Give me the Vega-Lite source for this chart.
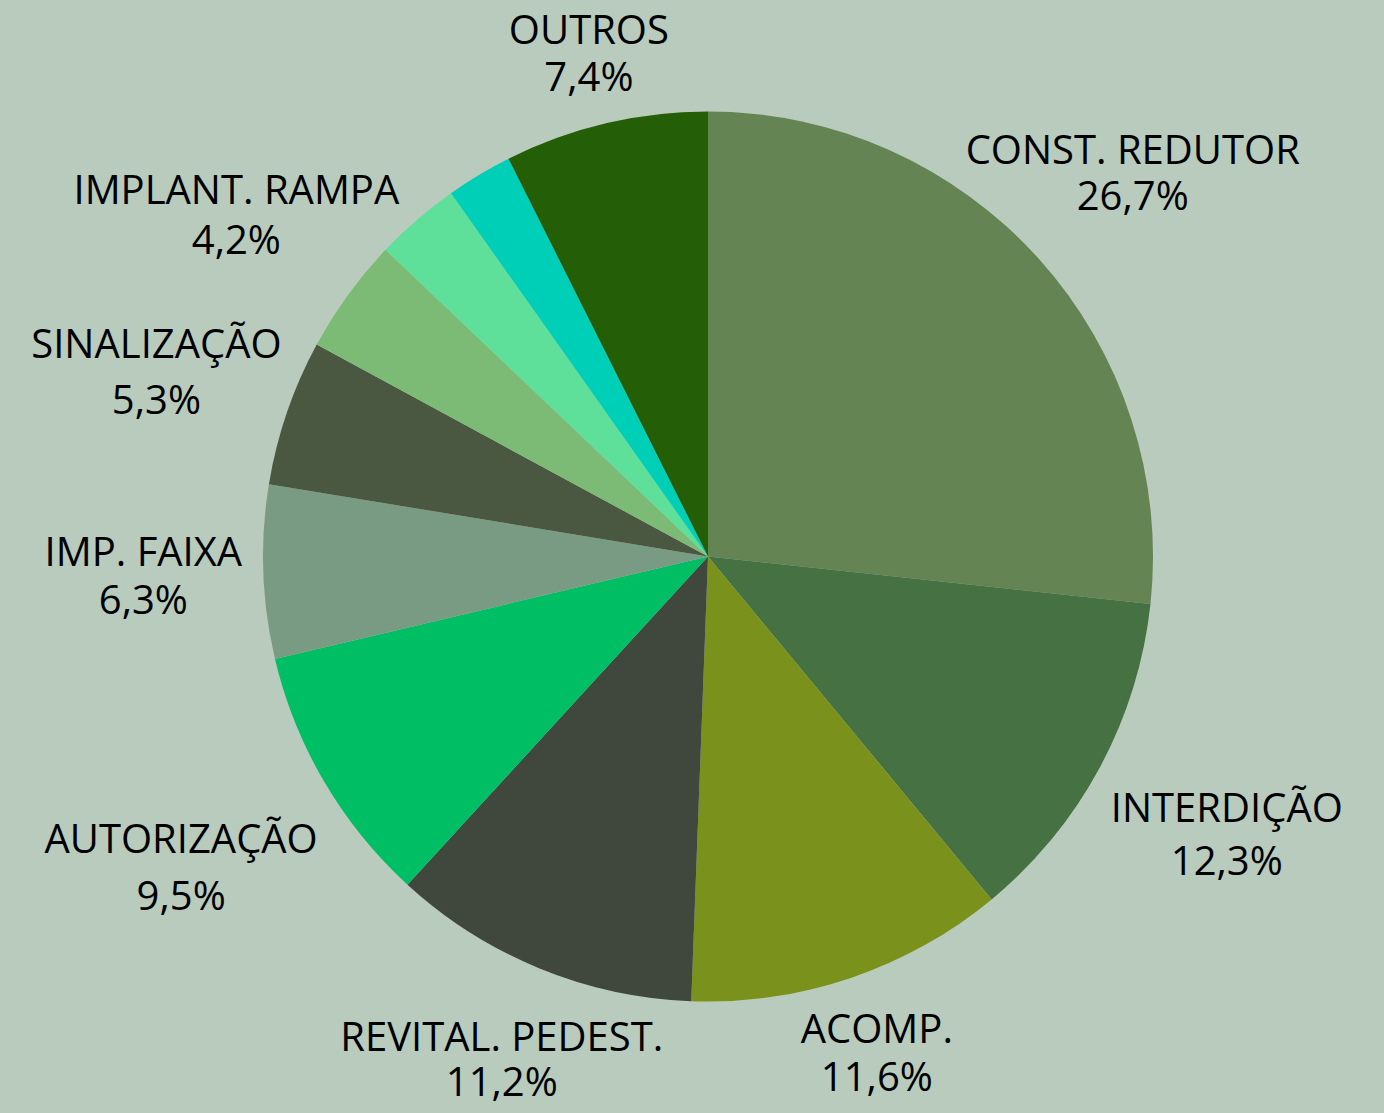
{
  "$schema": "https://vega.github.io/schema/vega-lite/v6.json",
  "width": 1352,
  "height": 1113,
  "autosize": "none",
  "padding": {"left": 32, "right": 0, "top": 0, "bottom": 0},
  "background": "#B9CBBC",
  "config": {"view": {"stroke": null}, "text": {"font": "Open Sans", "fontSize": 40, "color": "#000000", "lineBreak": "\n", "align": "center", "baseline": "middle"}},
  "data": {
    "values": [
      {"idx": 1, "cat": "CONST. REDUTOR", "value": 26.7},
      {"idx": 2, "cat": "INTERDIÇÃO", "value": 12.3},
      {"idx": 3, "cat": "ACOMP.", "value": 11.6},
      {"idx": 4, "cat": "REVITAL. PEDEST.", "value": 11.2},
      {"idx": 5, "cat": "AUTORIZAÇÃO", "value": 9.5},
      {"idx": 6, "cat": "IMP. FAIXA", "value": 6.3},
      {"idx": 7, "cat": "SINALIZAÇÃO", "value": 5.3},
      {"idx": 8, "cat": "IMPLANT. RAMPA", "value": 4.2},
      {"idx": 9, "cat": "DEMAIS A", "value": 3.1},
      {"idx": 10, "cat": "DEMAIS B", "value": 2.4},
      {"idx": 11, "cat": "OUTROS", "value": 7.4}
    ]
  },
  "transform": [
    {"stack": "value", "groupby": [], "sort": [{"field": "idx", "order": "ascending"}], "as": ["v0", "v1"]},
    {"calculate": "(datum.v0 + datum.v1) / 2", "as": "mid"},
    {"calculate": "datum.cat + '\\n' + replace(format(datum.value, '.1f'), '.', ',') + '%'", "as": "label"}
  ],
  "layer": [
    {
      "mark": {"type": "arc", "outerRadius": 445},
      "encoding": {
        "theta": {"field": "v0", "type": "quantitative", "scale": {"domain": [0, 100]}},
        "theta2": {"field": "v1"},
        "color": {
          "field": "cat",
          "type": "nominal",
          "legend": null,
          "scale": {
            "domain": ["CONST. REDUTOR", "INTERDIÇÃO", "ACOMP.", "REVITAL. PEDEST.", "AUTORIZAÇÃO", "IMP. FAIXA", "SINALIZAÇÃO", "IMPLANT. RAMPA", "DEMAIS A", "DEMAIS B", "OUTROS"],
            "range": ["#648453", "#467142", "#7A921C", "#40473D", "#00BE64", "#7A9B83", "#4A5741", "#7CBB75", "#5EDF9A", "#00CFB8", "#245E07"]
          }
        }
      }
    },
    {
      "transform": [{"filter": {"field": "cat", "equal": "CONST. REDUTOR"}}],
      "mark": {"type": "text", "radius": 571, "lineHeight": 46, "dy": -23},
      "encoding": {"theta": {"field": "mid", "type": "quantitative"}, "text": {"field": "label"}}
    },
    {
      "transform": [{"filter": {"field": "cat", "equal": "INTERDIÇÃO"}}],
      "mark": {"type": "text", "radius": 589, "lineHeight": 53, "dy": -25},
      "encoding": {"theta": {"field": "mid", "type": "quantitative"}, "text": {"field": "label"}}
    },
    {
      "transform": [{"filter": {"field": "cat", "equal": "ACOMP."}}],
      "mark": {"type": "text", "radius": 526, "lineHeight": 48, "dy": -24},
      "encoding": {"theta": {"field": "mid", "type": "quantitative"}, "text": {"field": "label"}}
    },
    {
      "transform": [{"filter": {"field": "cat", "equal": "REVITAL. PEDEST."}}],
      "mark": {"type": "text", "radius": 543, "lineHeight": 45, "dy": -20},
      "encoding": {"theta": {"field": "mid", "type": "quantitative"}, "text": {"field": "label"}}
    },
    {
      "transform": [{"filter": {"field": "cat", "equal": "AUTORIZAÇÃO"}}],
      "mark": {"type": "text", "radius": 611, "lineHeight": 57, "dy": -25},
      "encoding": {"theta": {"field": "mid", "type": "quantitative"}, "text": {"field": "label"}}
    },
    {
      "transform": [{"filter": {"field": "cat", "equal": "IMP. FAIXA"}}],
      "mark": {"type": "text", "radius": 565, "lineHeight": 48, "dy": -22},
      "encoding": {"theta": {"field": "mid", "type": "quantitative"}, "text": {"field": "label"}}
    },
    {
      "transform": [{"filter": {"field": "cat", "equal": "SINALIZAÇÃO"}}],
      "mark": {"type": "text", "radius": 583, "lineHeight": 56, "dy": -22},
      "encoding": {"theta": {"field": "mid", "type": "quantitative"}, "text": {"field": "label"}}
    },
    {
      "transform": [{"filter": {"field": "cat", "equal": "IMPLANT. RAMPA"}}],
      "mark": {"type": "text", "radius": 583, "lineHeight": 50, "dy": -22},
      "encoding": {"theta": {"field": "mid", "type": "quantitative"}, "text": {"field": "label"}}
    },
    {
      "transform": [{"filter": {"field": "cat", "equal": "OUTROS"}}],
      "mark": {"type": "text", "radius": 517, "lineHeight": 47, "dy": -21.5},
      "encoding": {"theta": {"field": "mid", "type": "quantitative"}, "text": {"field": "label"}}
    }
  ]
}
